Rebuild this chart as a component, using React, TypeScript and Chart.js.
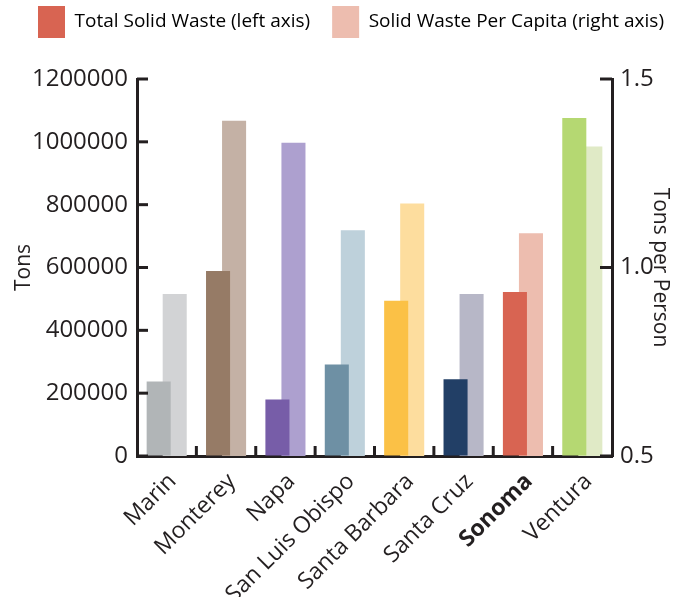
import React, { useEffect, useRef } from 'react';
import { Chart, registerables } from 'chart.js';

Chart.register(...registerables);

const counties = ['Marin', 'Monterey', 'Napa', 'San Luis Obispo', 'Santa Barbara', 'Santa Cruz', 'Sonoma', 'Ventura'];
const totalWaste = [237000, 589000, 180000, 291000, 494000, 244000, 522000, 1076000];
const perCapita = [0.93, 1.389, 1.331, 1.099, 1.17, 0.93, 1.091, 1.321];
const totalColors = ['#B1B5B7', '#967B66', '#775DA8', '#6E90A4', '#FBC146', '#223F66', '#D86452', '#B5D872'];
const perCapitaColors = ['#D2D3D5', '#C4B1A5', '#ADA0CF', '#BED1DB', '#FDDD9E', '#B7B7C7', '#EDBDAF', '#E0EAC6'];
const seriesLabels = ['Total Solid Waste (left axis)', 'Solid Waste Per Capita (right axis)'];
const highlightIndex = 6;

const AXIS = '#231F20';
const FONT = "'Open Sans', sans-serif";

const inwardTicks = {
  id: 'inwardTicks',
  afterDatasetsDraw(chart: any) {
    const { ctx, chartArea } = chart;
    const { left, right, bottom } = chartArea;
    const y = chart.scales.y;
    const y1 = chart.scales.y1;
    const x = chart.scales.x;
    ctx.save();
    ctx.strokeStyle = AXIS;
    ctx.lineWidth = 3;
    y.ticks.forEach((_: any, i: number) => {
      const py = y.getPixelForTick(i);
      ctx.beginPath();
      ctx.moveTo(left, py);
      ctx.lineTo(left + 11, py);
      ctx.stroke();
    });
    y1.ticks.forEach((_: any, i: number) => {
      const py = y1.getPixelForTick(i);
      ctx.beginPath();
      ctx.moveTo(right - 12, py);
      ctx.lineTo(right, py);
      ctx.stroke();
    });
    for (let i = 1; i < x.ticks.length; i++) {
      const px = (x.getPixelForTick(i - 1) + x.getPixelForTick(i)) / 2;
      ctx.beginPath();
      ctx.moveTo(px, bottom - 10);
      ctx.lineTo(px, bottom);
      ctx.stroke();
    }
    ctx.restore();
  },
};

const legendSpace = {
  id: 'legendSpace',
  beforeInit(chart: any) {
    const legend = chart.legend;
    if (!legend) return;
    const orig = legend.fit;
    legend.fit = function () {
      orig.bind(legend)();
      this.height += 31;
    };
  },
  afterLayout(chart: any) {
    const legend = chart.legend;
    if (!legend) return;
    legend.left += 10;
    legend.right += 10;
  },
};

export default function App() {
  const ref = useRef<HTMLCanvasElement | null>(null);

  useEffect(() => {
    if (!ref.current) return;
    const chart = new Chart(ref.current, {
      type: 'bar',
      data: {
        labels: counties,
        datasets: [
          {
            label: seriesLabels[0],
            data: totalWaste,
            backgroundColor: totalColors,
            yAxisID: 'y',
            categoryPercentage: 0.54,
            barPercentage: 1.5,
          },
          {
            label: seriesLabels[1],
            data: perCapita,
            backgroundColor: perCapitaColors,
            yAxisID: 'y1',
            categoryPercentage: 0.54,
            barPercentage: 1.5,
          },
        ],
      },
      options: {
        responsive: false,
        animation: false,
        layout: { padding: { top: -16, left: 0, right: 0, bottom: 0 } },
        plugins: {
          tooltip: { enabled: false },
          legend: {
            display: true,
            position: 'top',
            labels: {
              boxWidth: 27,
              boxHeight: 32,
              padding: 22,
              color: AXIS,
              font: { family: FONT, size: 19 },
              generateLabels: () => [
                { text: seriesLabels[0], fillStyle: totalColors[highlightIndex], strokeStyle: totalColors[highlightIndex], lineWidth: 0, datasetIndex: 0, hidden: false },
                { text: seriesLabels[1], fillStyle: perCapitaColors[highlightIndex], strokeStyle: perCapitaColors[highlightIndex], lineWidth: 0, datasetIndex: 1, hidden: false },
              ],
            },
          },
        },
        scales: {
          x: {
            grid: { display: true, drawOnChartArea: false, drawTicks: false },
            border: { display: true, color: AXIS, width: 3 },
            ticks: {
              minRotation: 45,
              maxRotation: 45,
              padding: 12,
              labelOffset: 6,
              color: AXIS,
              font: (ctx: any) => ({ family: FONT, size: 23, weight: ctx.index === highlightIndex ? 'bold' : 'normal' }),
            },
            afterFit: (s: any) => { s.height = 141; },
          },
          y: {
            position: 'left',
            min: 0,
            max: 1200000,
            grid: { display: true, drawOnChartArea: false, drawTicks: false },
            border: { display: true, color: AXIS, width: 3 },
            ticks: {
              stepSize: 200000,
              padding: 9,
              color: AXIS,
              font: { family: FONT, size: 24 },
              callback: (v: any) => String(v),
            },
            title: { display: true, text: 'Tons', color: AXIS, font: { family: FONT, size: 21 }, padding: { top: 11, bottom: 0 } },
            afterFit: (s: any) => { s.width = 137; },
          },
          y1: {
            position: 'right',
            min: 0.5,
            max: 1.5,
            grid: { display: true, drawOnChartArea: false, drawTicks: false },
            border: { display: true, color: AXIS, width: 3 },
            ticks: {
              stepSize: 0.5,
              padding: 8,
              color: AXIS,
              font: { family: FONT, size: 24 },
              callback: (v: any) => Number(v).toFixed(1),
            },
            title: { display: true, text: 'Tons per Person', color: AXIS, font: { family: FONT, size: 21 }, padding: { top: 9, bottom: 0 } },
            afterFit: (s: any) => { s.width = 70; },
          },
        },
      },
      plugins: [inwardTicks, legendSpace],
    } as any);
    return () => chart.destroy();
  }, []);

  return (
    <div style={{ position: 'fixed', left: 0, top: 0, width: 682, height: 597, background: '#fff' }}>
      <canvas ref={ref} width={682} height={597} style={{ display: 'block' }} />
    </div>
  );
}
